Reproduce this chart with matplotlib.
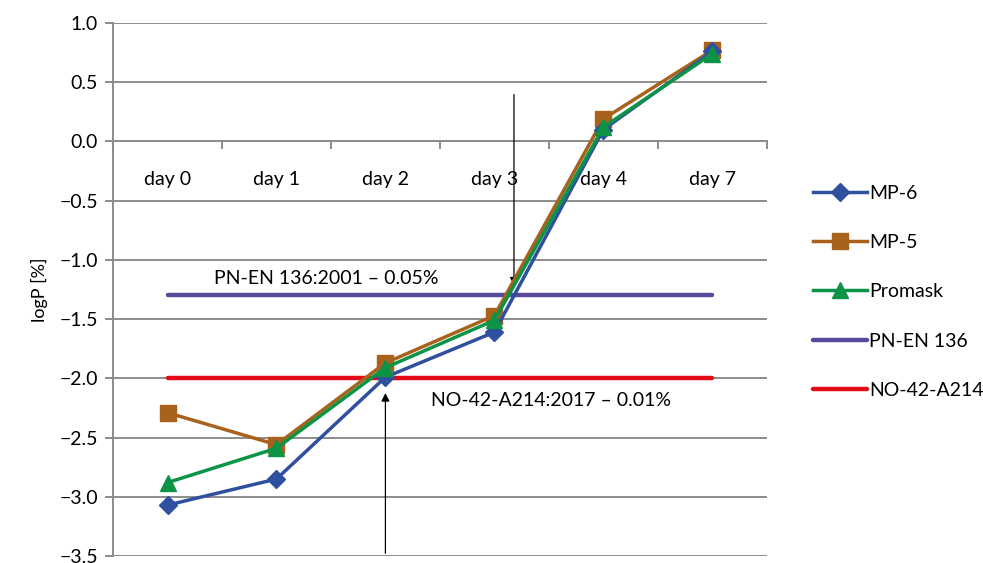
import matplotlib.pyplot as plt
from matplotlib.ticker import FixedLocator

plt.rcParams['font.family'] = ['Lato', 'DejaVu Sans']
plt.rcParams['axes.unicode_minus'] = True

days = ['day 0', 'day 1', 'day 2', 'day 3', 'day 4', 'day 7']
mp6 = [-3.07, -2.85, -1.99, -1.61, 0.10, 0.76]
mp5 = [-2.29, -2.56, -1.87, -1.47, 0.19, 0.77]
promask = [-2.88, -2.59, -1.91, -1.51, 0.12, 0.74]
pn_en_limit = -1.30
no42_limit = -2.00

fs = 14

fig = plt.figure(figsize=(9.83, 5.63), dpi=100)
ax = fig.add_axes([0.115, 0.0124, 0.665, 0.9467])

x = list(range(len(days)))
ax.plot(x, mp6, color='#2F4F9F', lw=2.5, marker='D', ms=9, label='MP-6', zorder=5)
ax.plot(x, mp5, color='#A8621C', lw=2.5, marker='s', ms=11, label='MP-5', zorder=4)
ax.plot(x, promask, color='#0B9346', lw=2.5, marker='^', ms=12, label='Promask', zorder=6)
ax.plot([x[0], x[-1]], [pn_en_limit, pn_en_limit], color='#574A9A', lw=3.2,
        solid_capstyle='round', label='PN-EN 136', zorder=3)
ax.plot([x[0], x[-1]], [no42_limit, no42_limit], color='#E30A17', lw=3.2,
        solid_capstyle='round', label='NO-42-A214', zorder=3)

ax.set_xlim(-0.5, 5.5)
ax.set_ylim(-3.5, 1.0)
ax.set_yticks([1.0, 0.5, 0.0, -0.5, -1.0, -1.5, -2.0, -2.5, -3.0, -3.5])
ax.yaxis.set_major_formatter(plt.FuncFormatter(lambda v, p: f'{v:.1f}'.replace('-', '\u2212')))
ax.grid(axis='y', color='#8C8C8C', lw=1.4)
ax.set_axisbelow(True)

for s in ['top', 'right']:
    ax.spines[s].set_visible(False)
ax.spines['left'].set_color('#8C8C8C')
ax.spines['left'].set_linewidth(1.4)
ax.spines['bottom'].set_position(('data', 0))
ax.spines['bottom'].set_color('#8C8C8C')
ax.spines['bottom'].set_linewidth(1.4)

ax.set_xticks(x)
ax.set_xticklabels(days)
ax.xaxis.set_minor_locator(FixedLocator([-0.5, 0.5, 1.5, 2.5, 3.5, 4.5, 5.5]))
ax.tick_params(axis='x', which='major', length=0, pad=21, labelsize=fs)
ax.tick_params(axis='x', which='minor', length=6, width=1.4, color='#8C8C8C', direction='out')
ax.tick_params(axis='y', length=6, width=1.4, color='#8C8C8C', labelsize=fs, pad=5)
ax.set_ylabel('logP [%]', fontsize=fs - 1, labelpad=8)

ax.annotate('', xy=(3.18, -1.24), xytext=(3.18, 0.42),
            arrowprops=dict(arrowstyle='-|>', color='black', lw=0.9, mutation_scale=12))
ax.annotate('', xy=(2.0, -2.10), xytext=(2.0, -3.5),
            arrowprops=dict(arrowstyle='-|>', color='black', lw=0.9, mutation_scale=12))
ax.text(0.43, -1.16, 'PN-EN 136:2001 \u2013 0.05%', fontsize=fs, va='center', ha='left')
ax.text(2.42, -2.19, 'NO-42-A214:2017 \u2013 0.01%', fontsize=fs, va='center', ha='left')

fig.legend(loc='upper left', bbox_to_anchor=(0.809, 0.703), frameon=False, fontsize=fs,
           labelspacing=1.66, handlelength=2.8, handletextpad=0.1)

fig.savefig('out.png', dpi=100)
